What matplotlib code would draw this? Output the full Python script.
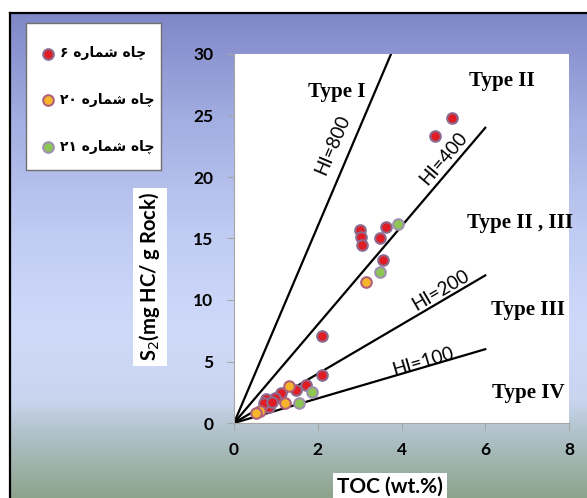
import numpy as np
import matplotlib
matplotlib.use("Agg")
import matplotlib.pyplot as plt
from matplotlib.colors import to_rgb
from matplotlib.patches import Rectangle

# TOC (wt.%) and S2 (mg HC / g rock) per well
well6_toc = [5.21, 4.81, 3.62, 3.48, 3.02, 3.04, 3.06, 3.56, 2.09, 2.09,
             1.73, 1.47, 1.12, 0.97, 0.77, 0.84, 0.72, 0.90]
well6_s2 = [24.8, 23.3, 15.9, 15.07, 15.7, 15.1, 14.5, 13.25, 7.1, 3.93,
            3.1, 2.68, 2.47, 2.06, 1.92, 1.33, 1.65, 1.7]
well20_toc = [3.16, 1.31, 1.22, 0.62, 0.53]
well20_s2 = [11.5, 3.02, 1.62, 0.98, 0.8]
well21_toc = [3.91, 3.48, 1.86, 1.55]
well21_s2 = [16.2, 12.3, 2.52, 1.62]

# hydrogen index reference lines (S2 = HI * TOC / 100)
hi_values = [800, 400, 200, 100]
hi_max_toc = 6

# kerogen type fields
type_labels = ["Type I", "Type II", "Type II , III", "Type III", "Type IV"]
type_x = [2.45, 6.40, 6.83, 7.02, 7.02]
type_y = [26.9, 27.8, 16.3, 9.2, 2.4]

# matplotlib has no bidi/shaping, so the Persian labels are written
# in visual order with Arabic presentation forms
chah_shomare = "\uFEE9\uFEAD\uFE8E\uFEE4\uFEB7 \uFEE9\uFE8E\uFB7C"
well_names = ["\u06F6 " + chah_shomare,
              "\u06F2\u06F0 " + chah_shomare,
              "\u06F2\u06F1 " + chah_shomare]

W, H = 587, 498
fig = plt.figure(figsize=(W / 100, H / 100), dpi=100)

# framed gradient background (pixel coordinates, y down)
bg = fig.add_axes([0, 0, 1, 1], zorder=0)
bg.set_xlim(0, W)
bg.set_ylim(H, 0)
bg.axis("off")
stops = [(13, "#7f87c7"), (120, "#a3aee2"), (230, "#c0cbf3"), (330, "#cfdafa"),
         (400, "#c9d5ef"), (440, "#adbfc4"), (498, "#8da38c")]
rows = np.arange(13, H + 1)
sy = [s[0] for s in stops]
grad = np.stack([np.interp(rows, sy, [to_rgb(s[1])[k] for s in stops])
                 for k in range(3)], axis=-1)[:, None, :]
bg.imshow(grad, extent=(10, W, H, 13), aspect="auto")
bg.plot([10, 10], [H, 13], color="black", lw=1.6)
bg.plot([10, W], [13, 13], color="black", lw=1.6)
# legend box
bg.add_patch(Rectangle((26, 23), 135, 147, facecolor="white",
                       edgecolor="#707070", lw=1.0))

ax = fig.add_axes([234 / W, 75 / H, 335 / W, 369 / H], zorder=1)
ax.set_facecolor("white")
ax.set_xlim(0, 8)
ax.set_ylim(0, 30)
ax.set_xticks([0, 2, 4, 6, 8])
ax.set_yticks(range(0, 31, 5))
for side in ["top", "right"]:
    ax.spines[side].set_visible(False)
for side in ["bottom", "left"]:
    ax.spines[side].set_color("#a6a6a6")
ax.tick_params(direction="out", length=5, color="#a6a6a6", labelsize=12.5)
ax.tick_params(axis="y", pad=10)
ax.tick_params(axis="x", pad=9)
for lbl in ax.get_xticklabels() + ax.get_yticklabels():
    lbl.set_fontweight("bold")
    lbl.set_family("Lato")

for hi in hi_values:
    x_end = min(hi_max_toc, 30 * 100 / hi)
    ax.plot([0, x_end], [0, hi * x_end / 100], color="black", lw=1.6, zorder=2)

# HI labels, rotated along each line in screen space
hi_label_pos = [(2.36, 22.6), (5.0, 21.5), (4.93, 10.8), (4.52, 4.96)]
fig.canvas.draw()
for hi, (lx, ly) in zip(hi_values, hi_label_pos):
    p0 = ax.transData.transform((0, 0))
    p1 = ax.transData.transform((1, hi / 100))
    ang = np.degrees(np.arctan2(p1[1] - p0[1], p1[0] - p0[0]))
    ax.text(lx, ly, f"HI={hi}", rotation=ang, rotation_mode="anchor",
            ha="center", va="center", fontsize=13.5, family="Lato", zorder=3)

for t, tx, ty in zip(type_labels, type_x, type_y):
    ax.text(tx, ty, t, ha="center", va="center", fontsize=15,
            family="Liberation Serif", fontweight="bold", zorder=3)

s = 58
h6 = ax.scatter(well6_toc, well6_s2, s=s, color="#e01c24", edgecolor="#8d6b8f",
                linewidth=1.5, zorder=4)
h20 = ax.scatter(well20_toc, well20_s2, s=s, color="#f7b52c", edgecolor="#b0607a",
                 linewidth=1.5, zorder=4)
h21 = ax.scatter(well21_toc, well21_s2, s=s, color="#8dc653", edgecolor="#a090b0",
                 linewidth=1.5, zorder=4)

leg = fig.legend([h6, h20, h21], well_names, loc="center",
                 bbox_to_anchor=(98 / W, 1 - 100 / H), frameon=False,
                 labelspacing=2.35, borderpad=0, borderaxespad=0,
                 handletextpad=0.35, handlelength=1.0,
                 prop={"family": "DejaVu Sans", "size": 10, "weight": "bold"})

fig.text(390 / W, 1 - 487 / H, "TOC (wt.%)", ha="center", va="center",
         fontsize=15, fontweight="bold", family="Lato",
         bbox=dict(facecolor="white", edgecolor="none", pad=3))
fig.text(150 / W, 1 - 277 / H, "S$_2$(mg HC/ g Rock)", ha="center", va="center",
         rotation=90, fontsize=14.5, fontweight="bold", family="Lato",
         bbox=dict(facecolor="white", edgecolor="none", pad=3))

fig.savefig("out.png", dpi=100)
